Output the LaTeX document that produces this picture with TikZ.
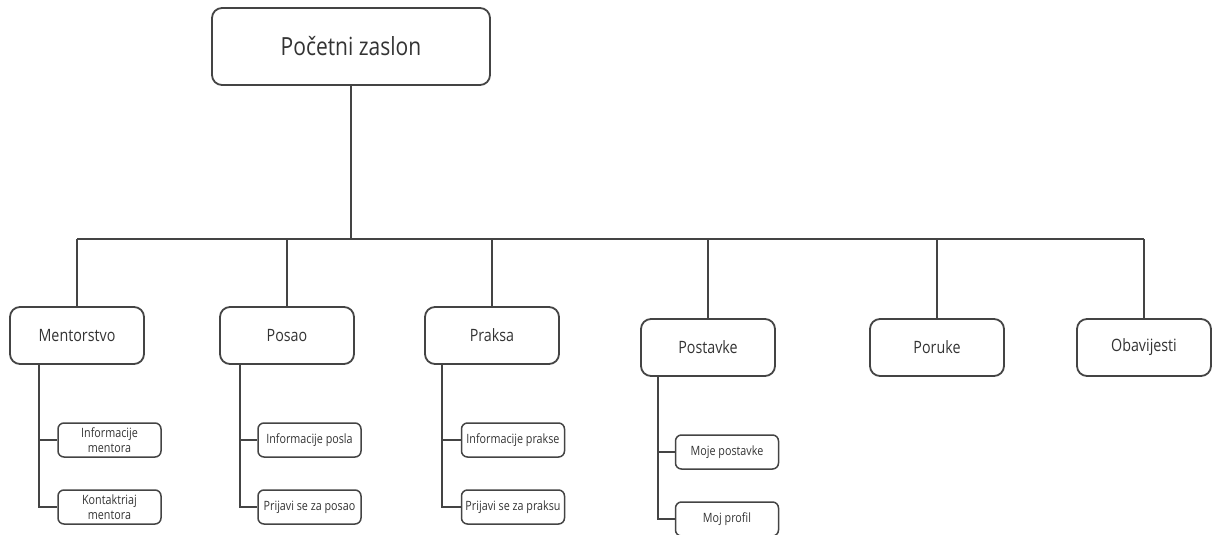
\documentclass[tikz,border=0pt]{standalone}
\usepackage{fontspec}
\setmainfont{Open Sans}[FakeStretch=0.84]
\definecolor{ln}{HTML}{444444}
\definecolor{tx}{HTML}{333333}
\tikzset{
  box/.style={draw=ln, line width=1.8pt, rounded corners=10pt, text=tx, align=center, inner sep=0pt},
  topbox/.style={box, minimum width=278pt, minimum height=77pt, font=\fontsize{25}{30}\selectfont},
  mainbox/.style={box, minimum width=134pt, minimum height=57pt, font=\fontsize{17}{20}\selectfont},
  subbox/.style={box, line width=1.5pt, rounded corners=6pt, minimum width=103pt, minimum height=34pt, font=\fontsize{12.8}{15.5}\selectfont},
  conn/.style={draw=ln, line width=1.6pt}
}
\begin{document}
\begin{tikzpicture}[x=1pt,y=-1pt]
\useasboundingbox (0,0) rectangle (1212,535);
\node[topbox] (top) at (351,46.5) {Početni zaslon};
\node[mainbox] (ment) at (77,335.5) {Mentorstvo};
\node[mainbox] (posao) at (287,335.5) {Posao};
\node[mainbox] (praksa) at (492,335.5) {Praksa};
\node[mainbox] (post) at (708,347.5) {Postavke};
\node[mainbox] (poruke) at (937,347.5) {Poruke};
\node[mainbox] (obav) at (1144,347.5) {Obavijesti};

\node[subbox] (m1) at (109.5,440) {\raisebox{-3pt}{\shortstack{Informacije\\mentora}}};
\node[subbox] (m2) at (109.5,507) {\raisebox{-3pt}{\shortstack{Kontaktriaj\\mentora}}};
\node[subbox] (p1) at (309.5,440) {Informacije posla};
\node[subbox] (p2) at (309.5,507) {Prijavi se za posao};
\node[subbox] (r1) at (513,440) {Informacije prakse};
\node[subbox] (r2) at (513,507) {Prijavi se za praksu};
\node[subbox] (s1) at (727,452) {Moje postavke};
\node[subbox] (s2) at (727,519) {Moj profil};

\coordinate (bus) at (0,239);
\draw[conn] (top.south) -- (top.south |- bus);
\draw[conn] (ment.north |- bus) -- (obav.north |- bus);
\foreach \n in {ment,posao,praksa,post,poruke,obav}
  \draw[conn] (\n.north |- bus) -- (\n.north);

\coordinate (mv) at (39,0);
\coordinate (pv) at (240,0);
\coordinate (rv) at (442,0);
\coordinate (sv) at (658,0);
\draw[conn] (ment.south -| mv) |- (m1.west);
\draw[conn] (ment.south -| mv) |- (m2.west);
\draw[conn] (posao.south -| pv) |- (p1.west);
\draw[conn] (posao.south -| pv) |- (p2.west);
\draw[conn] (praksa.south -| rv) |- (r1.west);
\draw[conn] (praksa.south -| rv) |- (r2.west);
\draw[conn] (post.south -| sv) |- (s1.west);
\draw[conn] (post.south -| sv) |- (s2.west);
\end{tikzpicture}
\end{document}
